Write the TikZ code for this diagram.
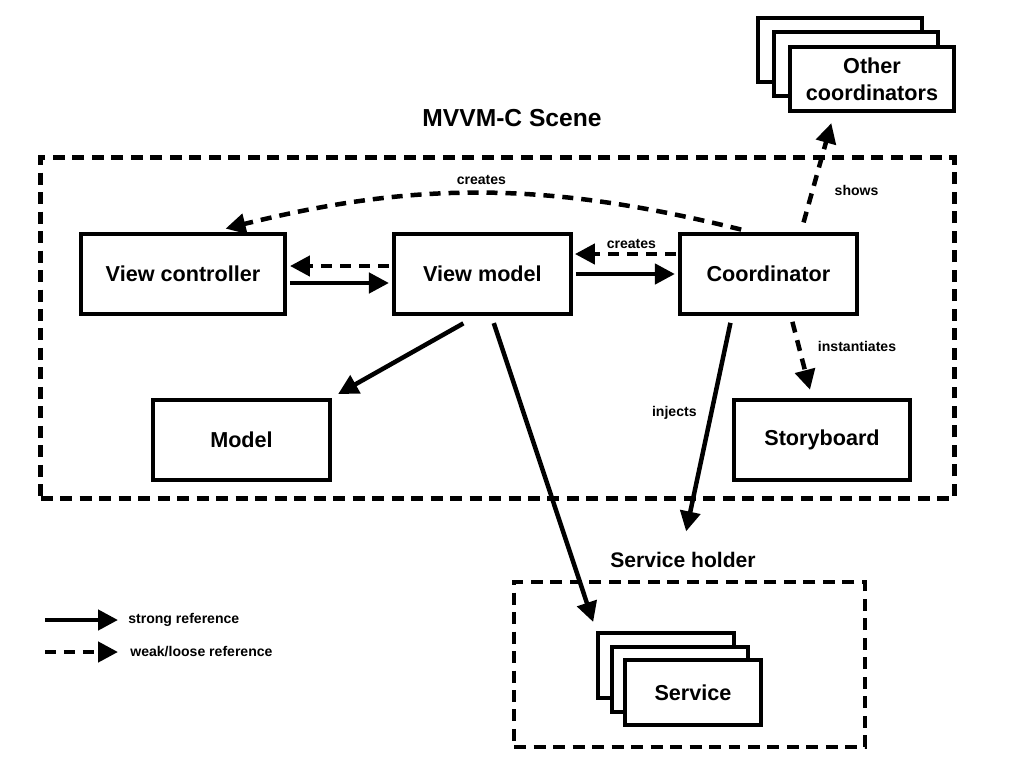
\documentclass[tikz,border=0pt]{standalone}
\usepackage{fontspec}
\setmainfont{Liberation Sans}
\usetikzlibrary{arrows.meta,positioning}

\begin{document}
\begin{tikzpicture}[
  x=0.02cm, y=-0.02cm,
  mod/.style={draw, line width=0.08cm, fill=white, minimum width=3.54cm, minimum height=1.6cm, align=center, font=\fontsize{12.3}{15.3}\selectfont\bfseries},
  stk/.style={mod, minimum height=1.3cm},
  grp/.style={draw, line width=0.09cm, dash pattern=on 0.24cm off 0.15cm},
  strong/.style={-{Triangle[length=0.4cm, width=0.4cm]}, line width=0.09cm},
  weak/.style={strong, dash pattern=on 0.22cm off 0.16cm},
  lbl/.style={font=\fontsize{8}{9}\selectfont\bfseries, inner sep=2pt},
  ttl/.style={font=\fontsize{14}{16}\selectfont\bfseries},
  node distance=2.1cm
]
\useasboundingbox (0,0) rectangle (1024,768);

% scene
\node[grp, minimum width=18.28cm, minimum height=6.82cm] (scene) at (497.5,328) {};
\node[ttl] (scenettl) at (512,118) {MVVM-C Scene};

\node[mod, minimum width=4.08cm] (vc) at (183,274) {View controller};
\node[mod, right=of vc] (vm) {View model};
\node[mod, right=of vm] (coord) {Coordinator};
\node[mod] (model) at (241.5,439.5) {Model};
\node[mod] (story) at (822,439.5) {Storyboard};

% other coordinators
\node[stk, minimum width=3.28cm] (oth3) at (840,50) {};
\node[stk, minimum width=3.28cm] (oth2) at (856,64) {};
\node[stk, minimum width=3.28cm] (oth) at (872,79) {Other\\coordinators};

% service holder
\node[grp, minimum width=7.02cm, minimum height=3.3cm] (holder) at (689.5,664.5) {};
\node[ttl, font=\fontsize{12}{14}\selectfont\bfseries] (holderttl) at (683,560) {Service holder};
\node[stk, minimum width=2.72cm] (srv3) at (666,665) {};
\node[stk, minimum width=2.72cm] (srv2) at (680,679) {};
\node[stk, minimum width=2.72cm] (srv) at (693,692.5) {Service};

\draw[weak, shorten <=0.2cm, shorten >=0.28cm] ([xshift=-0.35cm]coord.north) to[bend right=14] node[lbl, above=2pt] {creates} ([xshift=0.58cm]vc.north);
\draw[weak, shorten <=0.06cm, shorten >=0.06cm] ([yshift=0.16cm]vm.west) -- ([yshift=0.16cm]vc.east);
\draw[strong, shorten <=0.06cm, shorten >=0.06cm] ([yshift=-0.18cm]vc.east) -- ([yshift=-0.18cm]vm.west);
\draw[weak, shorten <=0.04cm, shorten >=0.04cm] ([yshift=0.4cm]coord.west) -- node[lbl, above, xshift=0.12cm] {creates} ([yshift=0.4cm]vm.east);
\draw[strong, shorten <=0.06cm, shorten >=0.06cm] (vm.east) -- (coord.west);
\draw[weak, shorten <=0.2cm, shorten >=0.2cm] ([xshift=0.65cm]coord.north) -- node[lbl, right=0.33cm, pos=0.35] {shows} ([xshift=-0.76cm]oth.south);
\draw[weak, shorten <=0.12cm, shorten >=0.16cm] ([xshift=0.45cm]coord.south) -- node[lbl, right=0.27cm, pos=0.37] {instantiates} ([xshift=-0.2cm]story.north);
\draw[strong, shorten <=0.14cm, shorten >=0.3cm] ([xshift=-0.73cm]coord.south) -- node[lbl, left=0.18cm, pos=0.42] {injects} (holderttl.north);
\draw[strong, shorten <=0.3cm, shorten >=0.14cm] ([xshift=-0.12cm]vm.south) -- (model.north east);
\draw[strong, shorten <=0.15cm, shorten >=0.18cm] ([xshift=0.18cm]vm.south) -- (srv3.north west);

% legend
\node[lbl, anchor=west, inner sep=0pt] (lgs) at (128,620) {strong reference};
\node[lbl, anchor=west, inner sep=0pt] (lgw) at (130,652) {weak/loose reference};
\coordinate (lgs0) at (45,620);
\coordinate (lgw0) at (45,652);
\draw[strong, shorten >=0.2cm] (lgs0) -- (lgs.west);
\draw[weak, shorten >=0.24cm] (lgw0) -- (lgw.west);

\end{tikzpicture}
\end{document}
